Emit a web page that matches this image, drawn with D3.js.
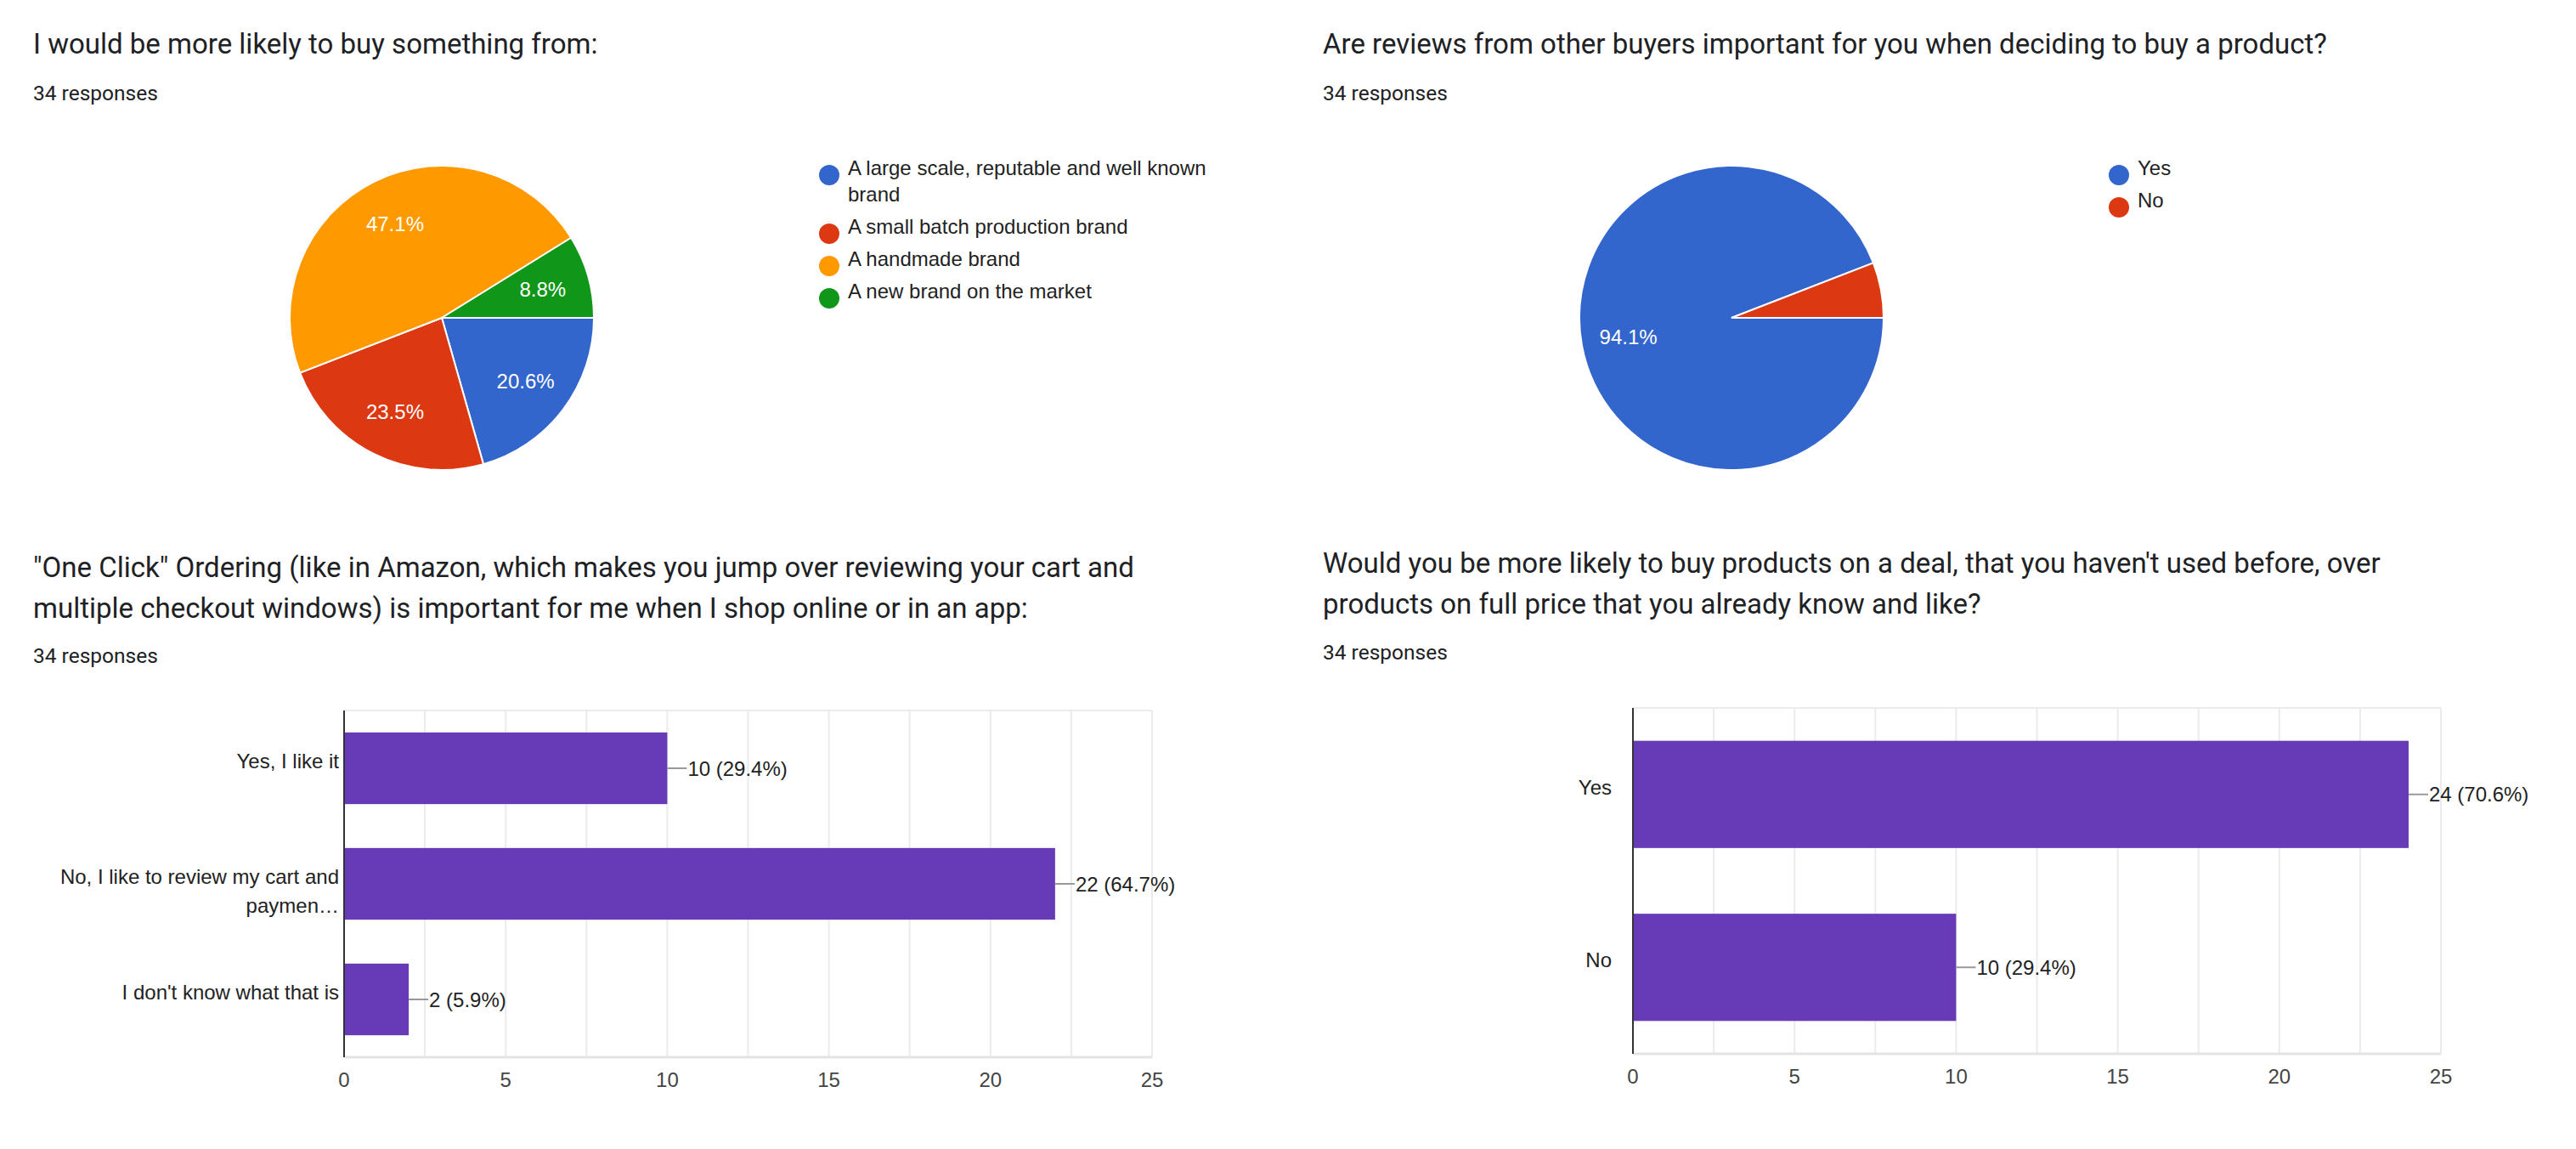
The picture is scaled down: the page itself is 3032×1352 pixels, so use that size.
<!DOCTYPE html>
<html>
<head>
<meta charset="utf-8">
<script src="https://cdn.jsdelivr.net/npm/d3@7.9.0/dist/d3.min.js"></script>
<style>
  html, body { margin: 0; padding: 0; background: #fff; }
  svg { display: block; }
  .title { font-family: Roboto, "Open Sans", sans-serif; font-size: 33px; fill: #202124; }
  .count { font-family: Roboto, "Open Sans", sans-serif; font-size: 24.5px; fill: #202124; }
  .lbl { font-family: "Liberation Sans", Arial, sans-serif; font-size: 24px; fill: #222; }
  .tick { font-family: "Liberation Sans", Arial, sans-serif; font-size: 24px; fill: #444; }
</style>
</head>
<body>
<svg id="chart" width="3032" height="1352"></svg>
<script>
// ---- data ----
const total = 34;

const brandTitle = "I would be more likely to buy something from:";
const brandCats = ["A large scale, reputable and well known brand", "A small batch production brand", "A handmade brand", "A new brand on the market"];
const brandCounts = [7, 8, 16, 3];

const reviewTitle = "Are reviews from other buyers important for you when deciding to buy a product?";
const reviewCats = ["Yes", "No"];
const reviewCounts = [32, 2];

const clickTitle = ["\"One Click\" Ordering (like in Amazon, which makes you jump over reviewing your cart and", "multiple checkout windows) is important for me when I shop online or in an app:"];
const clickCats = ["Yes, I like it", "No, I like to review my cart and paymen…", "I don't know what that is"];
const clickCounts = [10, 22, 2];

const dealTitle = ["Would you be more likely to buy products on a deal, that you haven't used before, over", "products on full price that you already know and like?"];
const dealCats = ["Yes", "No"];
const dealCounts = [24, 10];

const xTicks = [0, 5, 10, 15, 20, 25];
const gridTicks = [2.5, 5, 7.5, 10, 12.5, 15, 17.5, 20, 22.5, 25];

const pieColors = ["#3366cc", "#dc3912", "#ff9900", "#109618"];
const barColor = "#673ab7";

const svg = d3.select("#chart");
const pct = v => (v / total * 100).toFixed(1) + "%";

function header(x, lines, y0, countY) {
  const t = svg.append("text").attr("class", "title").attr("x", x).attr("y", y0);
  [].concat(lines).forEach((l, i) => {
    t.append("tspan").attr("x", x).attr("dy", i === 0 ? 0 : 48).text(l);
  });
  svg.append("text").attr("class", "count").attr("x", x).attr("y", countY).text(total + " responses");
}

// wrap svg text into tspans that fit maxW
function wrap(textSel, str, maxW, lineH) {
  const words = str.split(" ");
  let line = [];
  let tspan = textSel.append("tspan").attr("x", textSel.attr("x")).attr("dy", 0);
  let n = 0;
  words.forEach(w => {
    line.push(w);
    tspan.text(line.join(" "));
    if (tspan.node().getComputedTextLength() > maxW && line.length > 1) {
      line.pop();
      tspan.text(line.join(" "));
      line = [w];
      n++;
      tspan = textSel.append("tspan").attr("x", textSel.attr("x")).attr("dy", lineH).text(w);
    }
  });
  return n + 1;
}

function pieChart(cx, cy, r, cats, counts, legendX, legendY) {
  const g = svg.append("g").attr("transform", `translate(${cx},${cy})`);
  const pie = d3.pie().sort(null).startAngle(Math.PI / 2).endAngle(Math.PI / 2 + 2 * Math.PI);
  const arcs = pie(counts);
  const arc = d3.arc().innerRadius(0).outerRadius(r);
  const labelArc = d3.arc().innerRadius(r * 0.69).outerRadius(r * 0.69);

  g.selectAll("path").data(arcs).join("path")
    .attr("d", arc)
    .attr("fill", (d, i) => pieColors[i])
    .attr("stroke", "#fff")
    .attr("stroke-width", 2);

  g.selectAll("text.pl").data(arcs.filter(d => d.data / total > 0.07)).join("text")
    .attr("class", "lbl pl")
    .attr("transform", d => `translate(${labelArc.centroid(d)})`)
    .attr("text-anchor", "middle")
    .attr("dy", "0.36em")
    .style("fill", "#fff")
    .text(d => pct(d.data));

  // legend
  let y = legendY;
  cats.forEach((c, i) => {
    svg.append("circle").attr("cx", legendX).attr("cy", y).attr("r", 12).attr("fill", pieColors[i]);
    const t = svg.append("text").attr("class", "lbl").attr("x", legendX + 22).attr("y", y).attr("dy", "0.36em");
    const n = wrap(t, c, 430, 31);
    y += 38 + (n - 1) * 31;
  });
}

function barChart(x0, x1, y0, y1, cats, counts, labelGap) {
  const x = d3.scaleLinear().domain([0, 25]).range([x0, x1]);
  const y = d3.scaleBand().domain(cats).range([y0, y1]).paddingInner(0.38).paddingOuter(0.19);
  const g = svg.append("g");

  g.selectAll("line.grid").data(gridTicks).join("line")
    .attr("x1", d => x(d)).attr("x2", d => x(d))
    .attr("y1", y0).attr("y2", y1)
    .attr("stroke", "#ebebeb").attr("stroke-width", 2);
  g.append("line").attr("x1", x0).attr("x2", x1).attr("y1", y0).attr("y2", y0)
    .attr("stroke", "#ebebeb").attr("stroke-width", 2);
  g.append("line").attr("x1", x0).attr("x2", x1).attr("y1", y1).attr("y2", y1)
    .attr("stroke", "#e3e3e3").attr("stroke-width", 3);

  g.selectAll("rect").data(counts).join("rect")
    .attr("x", x(0))
    .attr("y", (d, i) => y(cats[i]))
    .attr("width", d => x(d) - x(0))
    .attr("height", y.bandwidth())
    .attr("fill", barColor);

  g.append("line").attr("x1", x0).attr("x2", x0).attr("y1", y0).attr("y2", y1)
    .attr("stroke", "#333").attr("stroke-width", 2);

  // value labels with connector
  counts.forEach((d, i) => {
    const cy = y(cats[i]) + y.bandwidth() / 2;
    g.append("line").attr("x1", x(d)).attr("x2", x(d) + 23).attr("y1", cy).attr("y2", cy)
      .attr("stroke", "#999").attr("stroke-width", 2);
    g.append("text").attr("class", "lbl").attr("x", x(d) + 24).attr("y", cy).attr("dy", "0.36em")
      .text(`${d} (${pct(d)})`);
  });

  // category labels
  cats.forEach(c => {
    const cy = y(c) + y.bandwidth() / 2;
    const t = g.append("text").attr("class", "lbl").attr("x", x0 - labelGap).attr("y", cy)
      .attr("text-anchor", "end");
    const n = wrap(t, c, 330, 34);
    t.attr("dy", (0.36 * 24 - (n - 1) * 17) + "px");
  });

  // x tick labels
  g.selectAll("text.tick").data(xTicks).join("text")
    .attr("class", "tick")
    .attr("x", d => x(d)).attr("y", y1 + 35)
    .attr("text-anchor", "middle")
    .text(d => d);
}

header(39, brandTitle, 63, 118);
pieChart(520, 374, 179, brandCats, brandCounts, 976, 206);

header(1557, reviewTitle, 63, 118);
pieChart(2038, 374, 179, reviewCats, reviewCounts, 2494, 206);

header(39, clickTitle, 679, 780);
barChart(405, 1356, 836, 1244, clickCats, clickCounts, 6);

header(1557, dealTitle, 674, 776);
barChart(1922, 2873, 833, 1240, dealCats, dealCounts, 25);
</script>
</body>
</html>
